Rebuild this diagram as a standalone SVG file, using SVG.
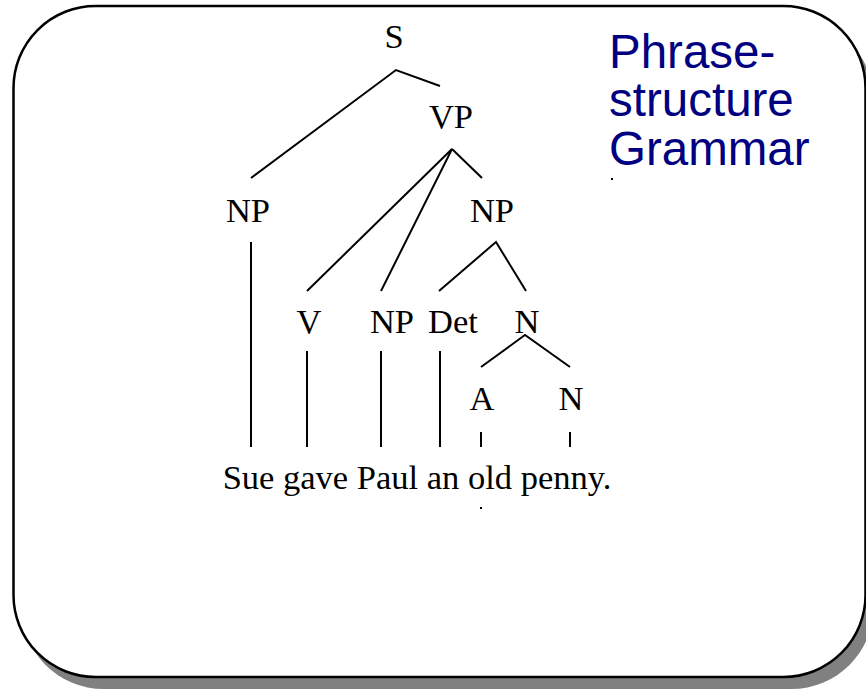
<svg xmlns="http://www.w3.org/2000/svg" width="866" height="692" viewBox="0 0 866 692">
<style>
.t{font-family:"Liberation Serif","Times New Roman",serif;font-size:34.5px;fill:#000;text-anchor:middle}
.h{font-family:"Liberation Sans",Arial,sans-serif;font-size:47.5px;fill:#000080}
.e{stroke:#000;stroke-width:2;fill:none;stroke-linecap:butt}
</style>
<rect x="21.5" y="18" width="852" height="671" rx="82" ry="82" fill="#808080"/>
<rect x="13.5" y="6" width="852" height="671" rx="82" ry="82" fill="#fff" stroke="#000" stroke-width="2.5"/>
<g id="title">
<text class="h" x="609" y="68">Phrase-</text>
<text class="h" x="609" y="116">structure</text>
<text class="h" x="609" y="165">Grammar</text>
<rect x="611" y="178" width="2" height="2" fill="#000"/>
</g>
<g id="connectors">
<polyline class="e" points="251,178 396,70 440,86"/>
<line class="e" x1="452" y1="149" x2="307" y2="291"/>
<line class="e" x1="452" y1="149" x2="381" y2="291"/>
<line class="e" x1="452" y1="149" x2="482" y2="178"/>
<polyline class="e" points="439,291 496,242 526,291"/>
<polyline class="e" points="481,367 525,335 570,367"/>
<line class="e" x1="251" y1="242" x2="251" y2="447"/>
<line class="e" x1="307" y1="351" x2="307" y2="447"/>
<line class="e" x1="381" y1="351" x2="381" y2="447"/>
<line class="e" x1="440" y1="351" x2="440" y2="447"/>
<line class="e" x1="481" y1="432" x2="481" y2="447"/>
<line class="e" x1="570" y1="432" x2="570" y2="447"/>
</g>
<g id="S"><text class="t" x="394" y="48">S</text></g>
<g id="VP"><text class="t" x="451" y="128">VP</text></g>
<g id="NP1"><text class="t" x="248" y="222">NP</text></g>
<g id="NP2"><text class="t" x="492" y="222">NP</text></g>
<g id="V"><text class="t" x="309" y="333">V</text></g>
<g id="NP3"><text class="t" x="392" y="333">NP</text></g>
<g id="Det"><text class="t" x="453" y="333">Det</text></g>
<g id="N1"><text class="t" x="527" y="333">N</text></g>
<g id="A"><text class="t" x="482" y="410">A</text></g>
<g id="N2"><text class="t" x="571" y="410">N</text></g>
<g id="sentence">
<text class="t" x="417" y="489">Sue gave Paul an old penny.</text>
<rect x="480" y="507" width="2" height="2" fill="#000"/>
</g>
</svg>
